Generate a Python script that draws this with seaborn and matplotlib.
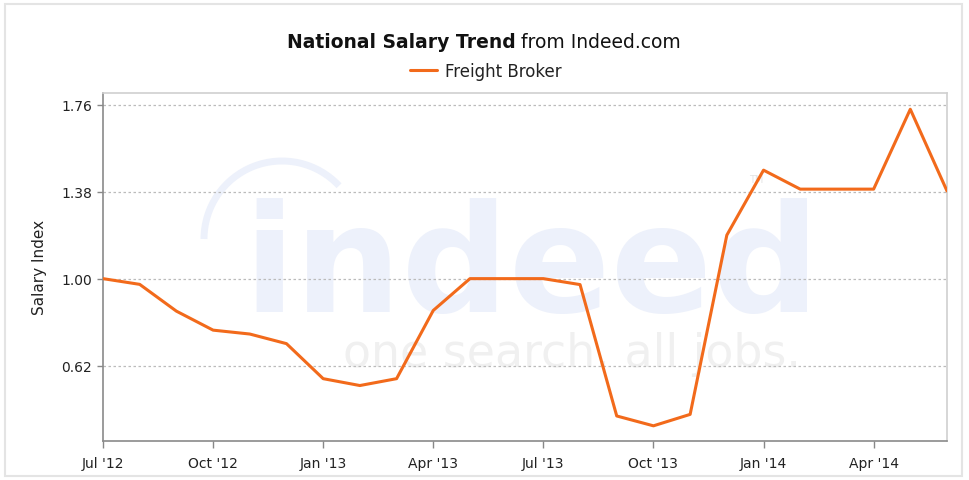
import matplotlib
matplotlib.use("Agg")
import matplotlib.pyplot as plt
import seaborn as sns
import pandas as pd
import numpy as np
from matplotlib.patches import Rectangle, Arc

# ---- data ----
months = ["Jul '12", "Aug '12", "Sep '12", "Oct '12", "Nov '12", "Dec '12",
          "Jan '13", "Feb '13", "Mar '13", "Apr '13", "May '13", "Jun '13",
          "Jul '13", "Aug '13", "Sep '13", "Oct '13", "Nov '13", "Dec '13",
          "Jan '14", "Feb '14", "Mar '14", "Apr '14", "May '14", "Jun '14"]
salary_index = [1.00, 0.975, 0.858, 0.775, 0.758, 0.716,
                0.563, 0.533, 0.563, 0.861, 1.00, 1.00,
                1.00, 0.974, 0.400, 0.357, 0.407, 1.190,
                1.474, 1.391, 1.391, 1.391, 1.740, 1.383]
tick_labels = ["Jul '12", "Oct '12", "Jan '13", "Apr '13", "Jul '13", "Oct '13", "Jan '14", "Apr '14"]
y_ticks = [0.62, 1.00, 1.38, 1.76]
series_name = "Freight Broker"

df = pd.DataFrame({"month_idx": np.arange(len(months)), "value": salary_index,
                   "series": series_name})

sns.set_theme(style="white")
plt.rcParams["font.family"] = ["DejaVu Sans"]

W, H = 969, 481
fig = plt.figure(figsize=(W / 100, H / 100), dpi=100)
fig.patch.set_facecolor("white")
# outer light border
fig.add_artist(Rectangle((5 / W, 4 / H), 957 / W, 472 / H, transform=fig.transFigure,
                         fill=False, edgecolor="#e4e4e4", linewidth=1.5))

ax = fig.add_axes([103 / W, 1 - 441.7 / H, (947 - 103) / W, (441.7 - 94) / H])
ax.set_facecolor("white")

orange = "#f26a1b"
sns.lineplot(data=df, x="month_idx", y="value", hue="series", palette=[orange],
             linewidth=2.2, ax=ax, zorder=5)

ax.set_xlim(0, len(months) - 1)
ax.set_ylim(0.292, 1.811)
tick_pos = [months.index(t) for t in tick_labels]
ax.set_xticks(tick_pos)
ax.set_xticklabels(tick_labels, fontsize=10, color="#222222")
ax.set_yticks(y_ticks)
ax.set_yticklabels([f"{v:.2f}" for v in y_ticks], fontsize=10, color="#222222")
ax.set_xlabel("")
ax.set_ylabel("Salary Index", fontsize=11, color="#222222", labelpad=10)

ax.yaxis.grid(True, linestyle=(0, (2, 2)), color="#bbbbbb", linewidth=0.9)
ax.xaxis.grid(False)
ax.tick_params(axis="x", bottom=True, length=5, width=1, color="#888888", pad=6)
ax.tick_params(axis="y", left=True, length=4, width=1, color="#888888", pad=4)
for side in ["left", "bottom"]:
    ax.spines[side].set_color("#8a8a8a")
    ax.spines[side].set_linewidth(1.2)
for side in ["top", "right"]:
    ax.spines[side].set_color("#d0d0d0")
    ax.spines[side].set_linewidth(1.2)

# watermark
wm_blue = "#edf1fb"
ax.text(0.508, 0.372, "indeed", transform=ax.transAxes, ha="center", va="baseline",
        fontsize=108, fontweight="bold", color=wm_blue, zorder=0)
ax.text(0.556, 0.215, "one search. all jobs.", transform=ax.transAxes, ha="center",
        va="baseline", fontsize=33, color="#f0f0f0", zorder=0)
ax.text(0.765, 0.745, "TM", transform=ax.transAxes, ha="left", va="baseline",
        fontsize=7, color="#e4e4e4", zorder=0)
ax.add_patch(Arc((282 / W, 1 - 240 / H), 2 * 78 / W, 2 * 78 / H, theta1=62, theta2=180,
                 transform=fig.transFigure, color=wm_blue, linewidth=5, zorder=0,
                 clip_on=False))

# title
fig.text(516 / W, 1 - 42 / H, "National Salary Trend", ha="right", va="center",
         fontsize=13.5, fontweight="bold", color="#111111")
fig.text(521 / W, 1 - 42 / H, "from Indeed.com", ha="left", va="center",
         fontsize=13.5, color="#111111")

# legend
leg = ax.legend(loc="center", bbox_to_anchor=(486 / W, 1 - 72 / H),
                bbox_transform=fig.transFigure, frameon=False, fontsize=12,
                handlelength=1.6, handletextpad=0.5)
for t in leg.get_texts():
    t.set_color("#222222")

fig.savefig("out.png", dpi=100, facecolor="white")
